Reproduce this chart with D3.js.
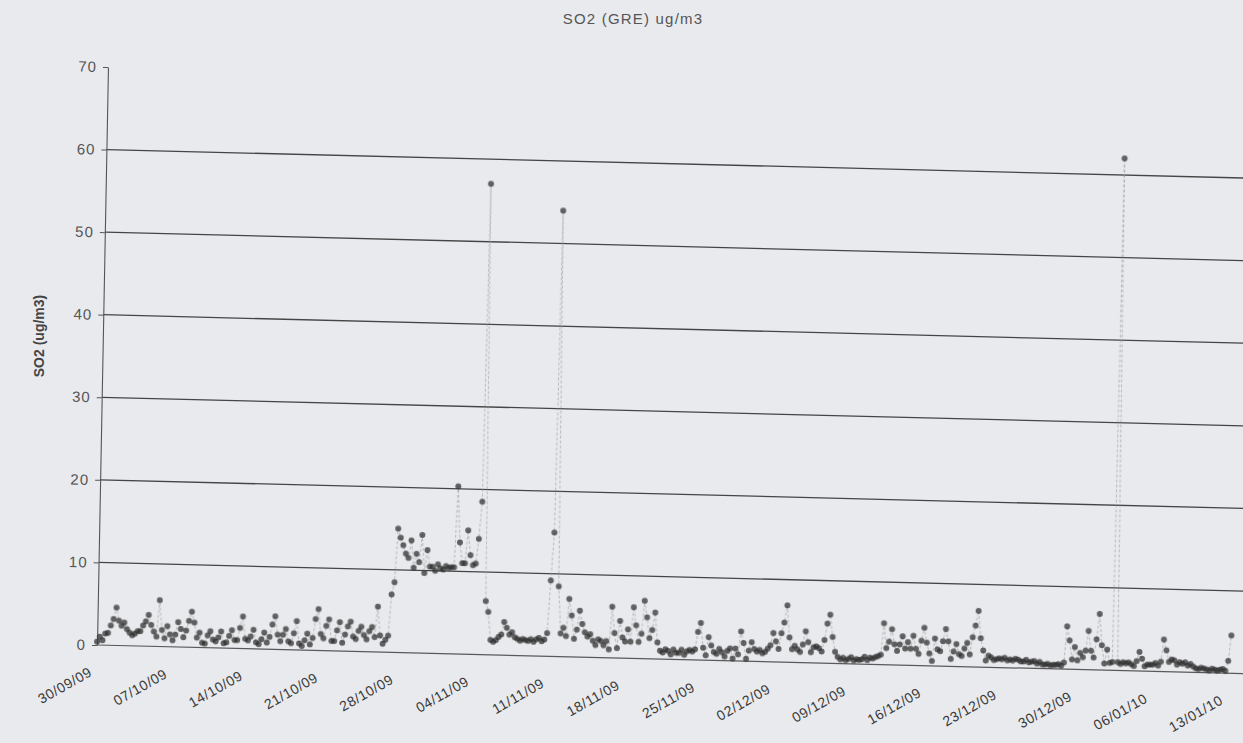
<!DOCTYPE html>
<html>
<head>
<meta charset="utf-8">
<script src="https://cdn.jsdelivr.net/npm/d3@7"></script>
<style>
  html, body { margin: 0; padding: 0; background: #e9eaee; }
  svg { display: block; font-family: "Liberation Sans", Arial, sans-serif; }
</style>
</head>
<body>
<svg id="chart" width="1243" height="743"></svg>
<script>
// ---- chart text -------------------------------------------------------
const chartTitle = "SO2 (GRE) ug/m3";
const yAxisTitle = "SO2 (ug/m3)";

// ---- axes -------------------------------------------------------------
const yTicks = [0, 10, 20, 30, 40, 50, 60, 70];
const xTickLabels = ["30/09/09", "07/10/09", "14/10/09", "21/10/09", "28/10/09",
  "04/11/09", "11/11/09", "18/11/09", "25/11/09", "02/12/09", "09/12/09",
  "16/12/09", "23/12/09", "30/12/09", "06/01/10", "13/01/10"];

// ---- SO2 readings, ug/m3, four per day (00h, 06h, 12h, 18h) -----------
// 30/09/09 .. 31/10/09
const so2October = [
  0.4, 1.0, 0.6, 1.4,   1.5, 2.4, 3.2, 4.6,   3.0, 2.4, 2.8, 2.0,   1.6, 1.3, 1.5, 1.8,
  1.8, 2.5, 3.0, 3.8,   2.6, 1.8, 1.2, 5.6,   2.0, 1.0, 2.5, 1.5,   0.8, 1.5, 3.0, 2.2,
  1.2, 2.0, 3.2, 4.3,   3.0, 1.2, 1.8, 0.6,   0.5, 1.5, 2.0, 1.0,   0.8, 1.3, 2.0, 0.6,
  0.7, 1.5, 2.2, 1.0,   1.0, 2.5, 3.9, 1.2,   1.0, 1.5, 2.3, 0.8,   0.6, 1.2, 2.0, 0.8,
  1.5, 3.0, 4.0, 1.8,   1.0, 1.8, 2.5, 1.0,   0.8, 2.0, 3.5, 0.8,   0.5, 1.2, 2.0, 0.7,
  1.5, 3.8, 5.0, 2.0,   1.5, 3.0, 3.8, 1.2,   1.2, 2.5, 3.5, 1.0,   2.0, 3.0, 3.6, 1.8,
  1.5, 2.5, 3.0, 2.0,   1.5, 2.5, 3.0, 1.8,   5.5, 2.0, 1.0, 1.5,   2.0, 7.0, 8.5, 15.0,
  13.9, 13.0, 12.0, 11.5, 13.6, 10.3, 12.0, 11.0, 14.3, 9.7, 12.5, 10.5, 10.5, 10.0, 10.8, 10.3
];
// 01/11/09 .. 30/11/09
const so2November = [
  10.2, 10.6, 10.4, 10.5, 10.5, 20.3, 13.5, 11.0, 11.0, 15.0, 12.0, 10.8, 11.0, 14.0, 18.5, 57.0,
  6.5, 5.2, 1.8, 1.6,   1.8, 2.2, 2.5, 4.0,   3.3, 2.5, 2.8, 2.2,   2.0, 1.8, 2.0, 1.9,
  1.8, 2.0, 1.7, 2.0,   2.2, 1.8, 2.0, 2.8,   9.2, 15.0, 54.0, 8.5, 2.8, 3.5, 2.5, 7.0,
  5.0, 2.2, 3.3, 5.6,   4.0, 3.0, 2.5, 2.8,   2.0, 1.5, 2.2, 2.0,   1.5, 2.0, 1.0, 6.2,
  3.0, 1.2, 4.5, 2.5,   2.0, 3.5, 2.0, 6.2,   4.0, 2.0, 3.0, 7.0,   5.0, 2.5, 3.5, 5.6,
  2.0, 1.0, 0.8, 1.2,   1.0, 0.6, 1.2, 0.8,   0.8, 1.2, 0.6, 1.0,   1.2, 1.0, 1.3, 3.4,
  4.5, 1.5, 0.6, 2.8,   1.8, 1.0, 0.8, 1.4,   1.0, 0.5, 1.2, 1.5,   0.3, 1.5, 0.8, 3.6,
  2.2, 0.3, 1.3, 2.3,   1.5, 1.2, 1.4, 1.0
];
// 01/12/09 .. 31/12/09
const so2December = [
  1.2, 1.6, 2.0, 3.5,   2.5, 1.6, 3.5, 4.8,   6.9, 3.0, 1.6, 2.0,   1.6, 1.3, 2.2, 3.8,
  2.5, 1.3, 1.9, 2.0,   1.8, 1.4, 2.8, 4.8,   5.9, 3.2, 1.4, 0.8,   0.5, 0.7, 0.4, 0.6,
  0.8, 0.4, 0.6, 0.5,   0.6, 0.9, 0.5, 0.8,   0.7, 0.9, 1.0, 1.2,   5.0, 2.0, 2.8, 4.3,
  2.5, 1.7, 2.5, 3.5,   2.0, 2.8, 2.0, 3.6,   2.0, 1.4, 3.0, 4.6,   2.8, 1.5, 0.6, 3.3,
  2.0, 1.8, 3.0, 4.5,   3.0, 0.9, 1.8, 2.7,   1.5, 1.3, 2.2, 2.9,   1.5, 3.6, 5.0, 6.8,
  3.5, 2.0, 0.8, 1.4,   1.2, 0.9, 1.0, 1.1,   1.0, 1.2, 0.9, 1.0,   0.9, 1.1, 1.0, 0.8,
  0.8, 1.0, 0.7, 0.8,   0.9, 0.6, 0.8, 0.5,   0.5, 0.6, 0.4, 0.5,   0.5, 0.6, 0.4, 0.8,
  5.2, 3.5, 1.2, 2.7,   1.1, 2.0, 1.5, 2.3,   4.7, 2.3, 1.5, 3.7
];
// 01/01/10 .. 13/01/10
const so2January = [
  6.8, 3.0, 0.8, 2.5,   0.9, 1.0, 62.0, 1.0,  0.8, 1.0, 0.9, 1.0,   0.8, 0.6, 1.2, 2.3,
  1.5, 0.6, 0.8, 0.8,   0.8, 1.0, 0.7, 1.2,   3.9, 2.6, 1.2, 1.5,   1.4, 0.9, 1.2, 1.0,
  1.2, 0.8, 1.0, 0.7,   0.5, 0.4, 0.6, 0.5,   0.4, 0.3, 0.5, 0.4,   0.3, 0.4, 0.5, 0.3,
  1.5, 4.6
];

// ---- build the series --------------------------------------------------
const parseDay = d3.timeParse("%d/%m/%y");
const fmtDay = d3.timeFormat("%d/%m/%y");
const firstReading = parseDay("30/09/09");
const hoursPerReading = 6;
const readings = [].concat(so2October, so2November, so2December, so2January)
  .map((v, i) => ({ t: d3.timeHour.offset(firstReading, i * hoursPerReading), v }));
const tickDates = xTickLabels.map(parseDay);

// ---- layout ------------------------------------------------------------
const svg = d3.select("#chart");
const plotLeft = 97, plotRight = 1228, plotTop = 67, plotBottom = 645, gridEnd = 1300;

const x = d3.scaleTime()
  .domain([tickDates[0], tickDates[tickDates.length - 1]])
  .range([plotLeft, plotRight]);
const y = d3.scaleLinear().domain([0, 70]).range([plotBottom, plotTop]);

// the printed page sits slightly askew: lines fall to the right, the axis leans left
const plot = svg.append("g")
  .attr("transform", `translate(${plotLeft},${plotBottom}) matrix(1,0.025,-0.019,1,0,0) translate(${-plotLeft},${-plotBottom})`);

// horizontal gridlines
plot.append("g")
  .selectAll("line")
  .data(yTicks.filter(d => d > 0 && d < 70))
  .join("line")
  .attr("x1", plotLeft).attr("x2", gridEnd)
  .attr("y1", d => y(d)).attr("y2", d => y(d))
  .attr("stroke", "#454545").attr("stroke-width", 1.3);

// baseline
plot.append("line")
  .attr("x1", plotLeft).attr("x2", gridEnd)
  .attr("y1", y(0)).attr("y2", y(0))
  .attr("stroke", "#5a5a5a").attr("stroke-width", 1.2);

// y axis
const yAxis = plot.append("g")
  .attr("transform", `translate(${plotLeft},0)`)
  .call(d3.axisLeft(y).tickValues(yTicks).tickSize(5).tickSizeOuter(0).tickPadding(6));
yAxis.select(".domain").attr("stroke", "#555").attr("stroke-width", 1.1);
yAxis.selectAll(".tick line").attr("stroke", "#555");
yAxis.selectAll(".tick text")
  .attr("fill", "#555").attr("font-size", 15)
  .attr("font-family", "'Liberation Sans', Arial, sans-serif")
  .attr("letter-spacing", 1);

// x axis labels, rotated
const xAxis = plot.append("g")
  .attr("transform", `translate(0,${plotBottom})`)
  .call(d3.axisBottom(x).tickValues(tickDates).tickFormat(fmtDay).tickSize(0));
xAxis.select(".domain").remove();
xAxis.selectAll(".tick text")
  .attr("y", 0).attr("dy", 0)
  .attr("text-anchor", "end")
  .attr("transform", "translate(-4,30) rotate(-31)")
  .attr("fill", "#3a3a3a").attr("font-size", 14)
  .attr("font-family", "'Liberation Sans', Arial, sans-serif")
  .attr("letter-spacing", 0.6);

// data: faint connecting line and dark markers
const blur = svg.append("defs").append("filter").attr("id", "soft")
  .attr("x", "-5%").attr("y", "-5%").attr("width", "110%").attr("height", "110%");
blur.append("feGaussianBlur").attr("stdDeviation", 0.6);

const marks = plot.append("g").attr("filter", "url(#soft)");
marks.append("path")
  .datum(readings)
  .attr("fill", "none")
  .attr("stroke", "#9a9a9a")
  .attr("stroke-width", 0.8)
  .attr("stroke-opacity", 0.8)
  .attr("stroke-dasharray", "3,2")
  .attr("d", d3.line().x(d => x(d.t)).y(d => y(d.v)));
marks.selectAll("circle")
  .data(readings)
  .join("circle")
  .attr("cx", d => x(d.t))
  .attr("cy", d => y(d.v))
  .attr("r", 3)
  .attr("fill", "#2e2e2e")
  .attr("fill-opacity", 0.72);

// titles
svg.append("text")
  .attr("x", 633).attr("y", 24)
  .attr("text-anchor", "middle")
  .attr("font-size", 15).attr("letter-spacing", 1.2)
  .attr("fill", "#555")
  .text(chartTitle);

svg.append("text")
  .attr("transform", "translate(44,336) rotate(-90)")
  .attr("text-anchor", "middle")
  .attr("font-size", 14).attr("font-weight", "bold")
  .attr("fill", "#444")
  .text(yAxisTitle);
</script>
</body>
</html>
